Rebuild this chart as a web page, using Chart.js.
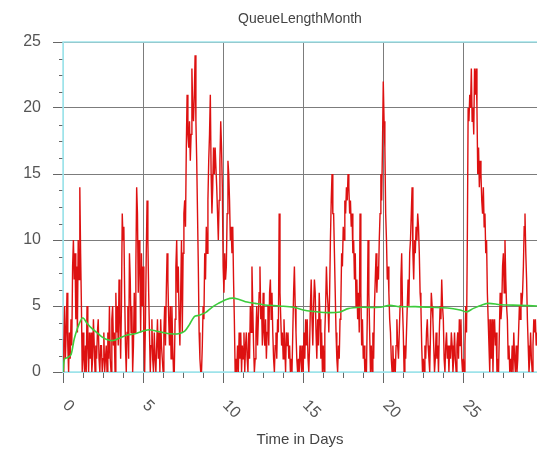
<!DOCTYPE html>
<html>
<head>
<meta charset="utf-8">
<script src="https://cdn.jsdelivr.net/npm/chart.js@4"></script>
<style>
  body { margin: 0; background: #fff; }
  #wrap { width: 537px; height: 449px; }
</style>
</head>
<body>
<div id="wrap"><canvas id="queueChart" width="537" height="449"></canvas></div>
<script>
// texts
const chartTitle = 'QueueLengthMonth';
const xTitle = 'Time in Days';

// axis ticks
const xTicks = [0, 5, 10, 15, 20, 25];
const yTicks = [0, 5, 10, 15, 20, 25];
const xMax = 29.6;
const yMax = 25;

// queue length, sampled every 0.05 day (one row per day)
const queueStart = 0;
const queueStep = 0.05;
const queueLength = [
  0, 2, 5, 1, 3, 6, 2, 0, 3, 1, 4, 2, 8, 10, 7, 9, 4, 8, 3, 10,
  7, 14, 9, 5, 0, 3, 1, 0, 2, 0, 5, 2, 0, 3, 1, 3, 0, 1, 4, 2,
  0, 2, 1, 3, 4, 1, 0, 2, 2, 0, 1, 3, 0, 1, 2, 0, 3, 1, 5, 1,
  0, 4, 5, 2, 3, 0, 6, 3, 5, 2, 7, 4, 1, 5, 12, 10, 11, 6, 2, 0,
  3, 5, 1, 9, 7, 3, 5, 0, 2, 6, 3, 8, 14, 12, 6, 10, 8, 3, 9, 5,
  8, 3, 0, 4, 9, 13, 10, 6, 3, 0, 2, 4, 1, 0, 3, 1, 0, 2, 4, 1,
  3, 0, 4, 2, 1, 0, 3, 5, 2, 6, 9, 7, 4, 2, 5, 1, 5, 2, 0, 0,
  4, 8, 10, 6, 8, 4, 2, 6, 10, 3, 9, 12, 13, 11, 17, 21, 18, 17, 19, 16,
  18, 23, 20, 19, 21, 24, 19, 16, 12, 8, 3, 1, 0, 0, 2, 5, 4, 9, 7, 11,
  9, 13, 16, 18, 21, 15, 12, 14, 17, 15, 17, 17, 14, 12, 10, 13, 16, 19, 17, 14,
  8, 6, 9, 7, 8, 12, 16, 15, 13, 10, 11, 9, 11, 7, 4, 0, 1, 0, 2, 0,
  3, 1, 3, 0, 2, 1, 3, 0, 2, 3, 1, 0, 3, 1, 5, 3, 8, 5, 2, 0,
  1, 3, 5, 2, 4, 6, 8, 4, 5, 2, 6, 3, 2, 4, 1, 3, 5, 2, 6, 7,
  4, 6, 3, 1, 0, 2, 3, 1, 4, 3, 12, 6, 4, 2, 3, 1, 4, 2, 0, 3,
  2, 3, 1, 2, 0, 1, 0, 3, 6, 8, 5, 3, 1, 0, 1, 0, 2, 1, 0, 2,
  0, 3, 1, 4, 2, 4, 1, 0, 2, 5, 7, 4, 2, 5, 7, 6, 3, 1, 4, 2,
  6, 4, 1, 3, 0, 2, 0, 3, 5, 8, 6, 5, 3, 6, 10, 13, 15, 12, 12, 9,
  6, 3, 1, 0, 2, 1, 4, 5, 9, 8, 11, 10, 13, 12, 14, 13, 15, 14, 12, 13,
  11, 12, 9, 10, 7, 9, 5, 7, 4, 6, 3, 12, 6, 2, 4, 1, 2, 0, 1, 0,
  4, 10, 6, 3, 0, 2, 0, 3, 1, 5, 7, 9, 6, 8, 7, 10, 12, 15, 13, 17,
  22, 19, 17, 12, 10, 7, 8, 6, 4, 3, 1, 0, 2, 0, 1, 0, 2, 4, 2, 1,
  3, 5, 7, 9, 5, 3, 0, 2, 1, 3, 5, 7, 5, 9, 10, 12, 14, 9, 7, 10,
  9, 11, 10, 12, 11, 9, 6, 5, 2, 0, 1, 0, 2, 1, 3, 4, 2, 1, 0, 3,
  6, 5, 4, 2, 0, 1, 3, 1, 2, 0, 3, 5, 4, 7, 5, 4, 1, 0, 2, 3,
  1, 2, 0, 2, 1, 3, 2, 0, 1, 3, 1, 0, 2, 3, 1, 4, 2, 4, 1, 0,
  1, 0, 2, 5, 3, 10, 20, 19, 21, 20, 23, 19, 20, 18, 23, 21, 23, 20, 15, 17,
  14, 16, 15, 13, 12, 14, 11, 12, 9, 10, 6, 4, 2, 0, 4, 1, 4, 0, 3, 4,
  2, 3, 0, 1, 0, 3, 6, 4, 5, 8, 9, 6, 10, 7, 5, 4, 1, 2, 0, 1,
  0, 2, 0, 3, 1, 0, 2, 0, 1, 3, 5, 4, 6, 5, 6, 8, 11, 12, 9, 7,
  4, 2, 0, 1, 3, 1, 0, 2, 4, 3, 4, 2, 3,
];

// running mean (green)
const meanDays = [0, 0.1, 0.3, 0.5, 0.7, 0.9, 1.1, 1.25, 1.5, 1.8, 2.1, 2.5, 2.9, 3.2, 3.6, 4.0, 4.5,
  5.0, 5.4, 5.8, 6.2, 6.7, 7.2, 7.6, 7.9, 8.2, 8.5, 8.9, 9.3, 9.7, 10.2, 10.6, 11.0, 11.5,
  12.0, 12.5, 13.5, 14.4, 15.0, 15.5, 16.5, 17.3, 17.8, 18.6, 19.8, 20.4, 21.0, 22.0, 23.0,
  24.0, 24.8, 25.2, 25.6, 26.2, 26.6, 27.3, 28.5, 29.6];
const meanQueue = [0, 1.0, 1.1, 1.3, 2.5, 3.3, 3.9, 4.1, 3.7, 3.3, 3.0, 2.6, 2.4, 2.4, 2.6, 2.8, 2.9,
  3.1, 3.2, 3.1, 3.0, 2.9, 2.9, 3.1, 3.6, 4.2, 4.3, 4.5, 4.9, 5.2, 5.5, 5.6, 5.5, 5.3,
  5.2, 5.1, 5.0, 4.9, 4.7, 4.6, 4.5, 4.55, 4.8, 4.9, 4.9, 5.05, 4.95, 4.95, 4.9,
  4.85, 4.7, 4.55, 4.8, 5.1, 5.2, 5.1, 5.05, 5.0];

const queuePoints = queueLength.map((v, i) => ({ x: queueStart + i * queueStep, y: v }));
const meanPoints = meanDays.map((d, i) => ({ x: d, y: meanQueue[i] }));

const cyan = '#9fe3ea';
const gridGray = '#7c7c7c';
const tickGray = '#666';
const labelFont = '"Liberation Sans", Arial, sans-serif';

// minor ticks, cyan frame and rotated x labels
const axisDecor = {
  id: 'axisDecor',
  beforeDatasetsDraw(chart) {
    const { ctx, chartArea: a, scales: { x, y } } = chart;
    ctx.save();
    ctx.strokeStyle = tickGray;
    ctx.lineWidth = 1;
    ctx.beginPath();
    for (let i = 0; i < yTicks.length - 1; i++) {
      for (let k = 1; k < 4; k++) {
        const py = Math.round(y.getPixelForValue(yTicks[i] + (yTicks[i + 1] - yTicks[i]) * k / 4)) + 0.5;
        ctx.moveTo(a.left - 4, py);
        ctx.lineTo(a.left, py);
      }
    }
    const xs = xTicks.concat([30]);
    for (let i = 0; i < xs.length - 1; i++) {
      for (let k = 1; k < 4; k++) {
        const px = Math.round(x.getPixelForValue(xs[i] + (xs[i + 1] - xs[i]) * k / 4)) + 0.5;
        if (px > a.right) continue;
        ctx.moveTo(px, a.bottom);
        ctx.lineTo(px, a.bottom + 6);
      }
    }
    ctx.stroke();

    ctx.strokeStyle = cyan;
    ctx.lineWidth = 1.5;
    ctx.beginPath();
    ctx.moveTo(a.right, a.top);
    ctx.lineTo(a.left, a.top);
    ctx.lineTo(a.left, a.bottom);
    ctx.lineTo(a.right, a.bottom);
    ctx.stroke();
    ctx.restore();
  },
  afterDraw(chart) {
    const { ctx, chartArea: a, scales: { x } } = chart;
    ctx.save();
    ctx.font = '16px ' + labelFont;
    ctx.fillStyle = '#555';
    ctx.textAlign = 'left';
    ctx.textBaseline = 'middle';
    xTicks.forEach((v) => {
      ctx.save();
      ctx.translate(x.getPixelForValue(v) + 2, a.bottom + 31);
      ctx.rotate(Math.PI / 4);
      ctx.fillText(String(v), 0, 0);
      ctx.restore();
    });
    ctx.restore();
  },
};

new Chart(document.getElementById('queueChart'), {
  type: 'line',
  data: {
    datasets: [
      {
        label: 'mean',
        data: meanPoints,
        borderColor: '#3ccc3c',
        borderWidth: 1.6,
        pointRadius: 0,
        tension: 0.3,
      },
      {
        label: 'QueueLength',
        data: queuePoints,
        borderColor: '#dd1111',
        borderWidth: 1.4,
        pointRadius: 0,
        tension: 0,
      },
    ],
  },
  options: {
    responsive: false,
    animation: false,
    layout: { padding: 0 },
    plugins: {
      legend: { display: false },
      tooltip: { enabled: false },
      title: {
        display: true,
        text: chartTitle,
        fullSize: false,
        color: '#444',
        font: { family: labelFont, size: 14, weight: 'normal' },
        padding: { top: 10.6, bottom: 14.6 },
      },
    },
    scales: {
      x: {
        type: 'linear',
        min: 0,
        max: xMax,
        afterFit: (s) => { s.height = 77; },
        ticks: { display: false, stepSize: 5, includeBounds: false },
        grid: { color: gridGray, tickColor: tickGray, tickLength: 11 },
        border: { color: cyan },
        title: {
          display: true,
          text: xTitle,
          color: '#444',
          font: { family: labelFont, size: 15 },
          padding: { top: 0, bottom: 0 },
        },
      },
      y: {
        min: 0,
        max: yMax,
        afterFit: (s) => { s.width = 63; },
        ticks: {
          stepSize: 5,
          padding: 12,
          color: '#555',
          font: { family: labelFont, size: 16 },
        },
        grid: { color: gridGray, tickColor: tickGray, tickLength: 10 },
        border: { color: cyan },
      },
    },
  },
  plugins: [axisDecor],
});
</script>
</body>
</html>
